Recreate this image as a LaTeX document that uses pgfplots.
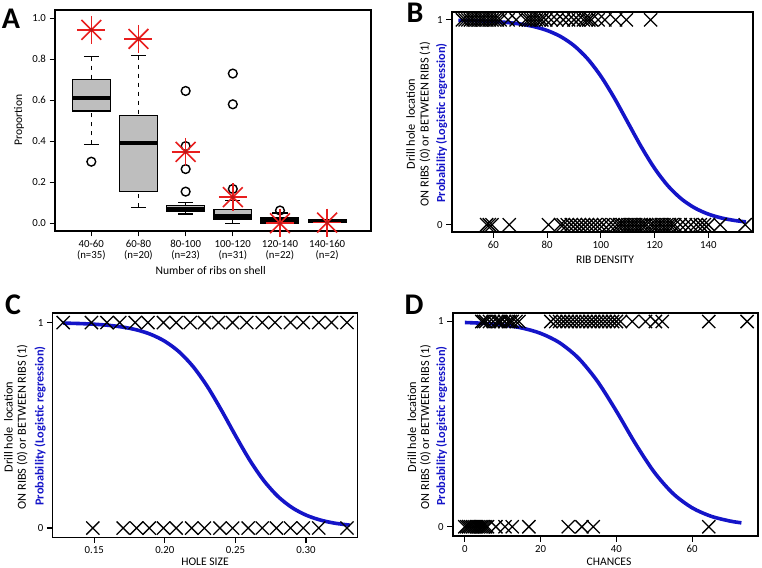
\documentclass[border=0pt]{standalone}
\usepackage{fontspec}
\setmainfont{Carlito}
\usepackage{pgfplots}
\pgfplotsset{compat=1.18}
\usepgfplotslibrary{statistics}
\definecolor{rblue}{RGB}{20,20,200}
\definecolor{rred}{RGB}{232,30,30}
\definecolor{boxgray}{RGB}{190,190,190}
\pgfplotsset{
  rframe/.style={scale only axis, anchor=south west,
    axis line style={line width=1.6pt}, tick pos=left, tick align=outside,
    major tick length=5.5pt, tick style={black, line width=1.2pt},
    /pgf/number format/assume math mode=true,
    tick label style={font=\fontsize{10.8}{11}\selectfont}},
  boxplot/draw/lower whisker/.code={%
    \draw[/pgfplots/boxplot/every whisker/.try, dash pattern=on 4.5pt off 4.5pt]
      (boxplot box cs:\pgfplotsboxplotvalue{lower whisker},0.5) --
      (boxplot box cs:\pgfplotsboxplotvalue{lower quartile},0.5);
    \draw[/pgfplots/boxplot/every whisker/.try]
      (boxplot whisker cs:\pgfplotsboxplotvalue{lower whisker},0) --
      (boxplot whisker cs:\pgfplotsboxplotvalue{lower whisker},1);
  },
  boxplot/draw/upper whisker/.code={%
    \draw[/pgfplots/boxplot/every whisker/.try, dash pattern=on 4.5pt off 4.5pt]
      (boxplot box cs:\pgfplotsboxplotvalue{upper whisker},0.5) --
      (boxplot box cs:\pgfplotsboxplotvalue{upper quartile},0.5);
    \draw[/pgfplots/boxplot/every whisker/.try]
      (boxplot whisker cs:\pgfplotsboxplotvalue{upper whisker},0) --
      (boxplot whisker cs:\pgfplotsboxplotvalue{upper whisker},1);
  },
  rbox/.style={black, line width=1.3pt, mark=o, mark size=4.4pt,
    mark options={line width=1.4pt, draw=black, fill=none, solid},
    boxplot/every box/.style={fill=boxgray, draw=black, line width=1.3pt},
    boxplot/every median/.style={line width=4.4pt, black},
    boxplot/box extend=0.8, boxplot/whisker extend=0.32},
  xmk/.style={only marks, mark=x, mark size=9.3pt, black, line width=1.3pt},
  curve/.style={rblue, line width=3.6pt, smooth, no marks},
}
\begin{document}
\begin{tikzpicture}[x=1pt,y=1pt]
\useasboundingbox (0,0) rectangle (762,567);

% ---------------- Panel A ----------------
\begin{axis}[rframe, at={(55pt,336pt)}, width=316pt, height=221pt,
  xmin=0.23, xmax=6.93, ymin=-0.038, ymax=1.04,
  xtick={1,2,3,4,5,6},
  xticklabels={{40-60\\(n=35)},{60-80\\(n=20)},{80-100\\(n=23)},{100-120\\(n=31)},{120-140\\(n=22)},{140-160\\(n=2)}},
  xticklabel style={align=center},
  ytick={0,0.2,0.4,0.6,0.8,1},
  yticklabel style={/pgf/number format/.cd, fixed, fixed zerofill, precision=1},
  boxplot/draw direction=y]
\addplot[rbox, boxplot prepared={draw position=1, lower whisker=0.385, lower quartile=0.547, median=0.61, upper quartile=0.70, upper whisker=0.812}] coordinates {(0,0.30)};
\addplot[rbox, boxplot prepared={draw position=2, lower whisker=0.078, lower quartile=0.154, median=0.392, upper quartile=0.526, upper whisker=0.818}] coordinates {};
\addplot[rbox, boxplot prepared={draw position=3, lower whisker=0.045, lower quartile=0.057, median=0.068, upper quartile=0.086, upper whisker=0.102}] coordinates {(0,0.645) (0,0.376) (0,0.264) (0,0.154)};
\addplot[rbox, boxplot prepared={draw position=4, lower whisker=0.0, lower quartile=0.017, median=0.032, upper quartile=0.068, upper whisker=0.11}] coordinates {(0,0.73) (0,0.58) (0,0.167)};
\addplot[rbox, boxplot prepared={draw position=5, lower whisker=0.0, lower quartile=0.0, median=0.014, upper quartile=0.026, upper whisker=0.05}] coordinates {(0,0.062)};
\addplot[rbox, boxplot prepared={draw position=6, lower whisker=0.004, lower quartile=0.004, median=0.01, upper quartile=0.017, upper whisker=0.017}] coordinates {};
\addplot[only marks, mark=+, mark size=14pt, rred, line width=1.6pt] coordinates {(1,0.943) (2,0.899) (3,0.348) (4,0.127) (5,0.0) (6,0.003)};
\addplot[only marks, mark=x, mark size=14pt, rred, line width=1.6pt] coordinates {(1,0.943) (2,0.899) (3,0.348) (4,0.127) (5,0.0) (6,0.003)};
\addplot[only marks, mark=*, mark size=1.8pt, rred!80!black] coordinates {(1,0.943) (2,0.899) (3,0.348) (4,0.127) (5,0.0) (6,0.003)};
\end{axis}

% ---------------- Panel B ----------------
\begin{axis}[rframe, at={(451.7pt,334.7pt)}, width=301pt, height=220pt,
  xmin=44.5, xmax=156.5, ymin=-0.037, ymax=1.037,
  xtick={60,80,100,120,140}, ytick={0,1}]
\addplot[xmk] coordinates {
(48.5,1) (49.5,1) (50.5,1) (51.5,1) (52.5,1) (53.5,1) (54.5,1) (55.5,1) (56.5,1) (57.5,1) (58.5,1) (59.5,1) (60.5,1) (61.5,1) (62.5,1)
(65.5,1) (68.5,1) (72,1) (73,1) (74,1) (75,1) (76,1) (77,1) (78,1) (79.5,1) (81.5,1) (83.6,1) (86,1) (88,1) (90,1) (91.6,1)
(93.5,1) (94.5,1) (95.5,1) (96.5,1) (99,1) (101.5,1) (105.5,1) (109.5,1) (118.5,1)};
\addplot[xmk] coordinates {
(57.5,0) (58.5,0) (59.5,0) (65.9,0) (80.5,0) (85,0) (86,0) (87.5,0) (89,0) (90.5,0) (92,0) (93.5,0) (95,0) (96.5,0) (98,0) (99.5,0)
(101,0) (103,0) (104.5,0) (106,0) (107,0) (108,0) (109,0) (110,0) (111,0) (112,0) (113,0) (114,0) (115,0) (116,0) (117,0)
(118.5,0) (119.5,0) (120.5,0) (121.5,0) (122.5,0) (123.5,0) (124.5,0) (125.5,0) (126.5,0) (127.5,0) (129.5,0) (131.5,0)
(133.5,0) (135.5,0) (137,0) (138.5,0) (140,0) (144.4,0) (153.7,0)};
\addplot[curve] coordinates {
(47,0.9978) (50,0.9970) (55,0.9952) (60,0.9922) (65,0.9874) (70,0.9798) (75,0.9675) (80,0.9483) (85,0.9187) (90,0.8744)
(95,0.8108) (100,0.7251) (105,0.6190) (110,0.5) (115,0.3811) (120,0.2749) (125,0.1892) (130,0.1256) (135,0.0813)
(140,0.0517) (145,0.0325) (150,0.0202) (154,0.0138)};
\end{axis}

% ---------------- Panel C ----------------
\begin{axis}[rframe, at={(52.3pt,29.7pt)}, width=305pt, height=224pt,
  xmin=0.1203, xmax=0.3363, ymin=-0.045, ymax=1.045,
  xtick={0.15,0.2,0.25,0.3}, ytick={0,1},
  xticklabel style={/pgf/number format/.cd, fixed, fixed zerofill, precision=2}]
\addplot[xmk] coordinates {
(0.128,1) (0.148,1) (0.159,1) (0.168,1) (0.179,1) (0.188,1) (0.199,1) (0.208,1) (0.218,1) (0.228,1) (0.238,1)
(0.248,1) (0.258,1) (0.269,1) (0.278,1) (0.289,1) (0.298,1) (0.309,1) (0.318,1) (0.329,1)};
\addplot[xmk] coordinates {
(0.149,0) (0.1705,0) (0.180,0) (0.189,0) (0.199,0) (0.208,0) (0.219,0) (0.228,0) (0.239,0) (0.248,0) (0.259,0)
(0.269,0) (0.279,0) (0.289,0) (0.298,0) (0.309,0) (0.329,0)};
\addplot[curve] coordinates {
(0.128,0.9973) (0.14,0.9950) (0.15,0.9918) (0.16,0.9866) (0.17,0.9781) (0.18,0.9644) (0.19,0.9427) (0.20,0.9088)
(0.21,0.8581) (0.22,0.7858) (0.23,0.6900) (0.24,0.5744) (0.25,0.4502) (0.26,0.3318) (0.27,0.2315) (0.28,0.1545)
(0.29,0.0998) (0.30,0.0630) (0.31,0.0392) (0.32,0.0241) (0.331,0.0141)};
\end{axis}

% ---------------- Panel D ----------------
\begin{axis}[rframe, at={(452.7pt,31pt)}, width=305pt, height=222.7pt,
  xmin=-3.2, xmax=77.3, ymin=-0.045, ymax=1.04,
  xtick={0,20,40,60}, ytick={0,1}]
\addplot[xmk] coordinates {
(4.5,1) (5,1) (5.5,1) (6.5,1) (7.5,1) (8.5,1) (9,1) (9.5,1) (10.5,1) (11.5,1) (12,1) (12.5,1) (13.5,1) (14.3,1)
(22.7,1) (24,1) (25,1) (26,1) (27,1) (28,1) (29,1) (30,1) (31,1) (32,1) (33,1) (34,1) (35,1) (36,1) (37,1) (38,1)
(39,1) (40,1) (41.1,1) (44.2,1) (47.7,1) (50.3,1) (52.1,1) (64.4,1) (74.5,1)};
\addplot[xmk] coordinates {
(0,0) (0.5,0) (1,0) (1.5,0) (2,0) (2.5,0) (3,0) (3.5,0) (4,0) (4.5,0) (5,0) (5.5,0) (6,0) (8.2,0) (10.6,0) (12.5,0)
(16.9,0) (27.3,0) (30.9,0) (33.9,0) (64.4,0)};
\addplot[curve] coordinates {
(0,0.9952) (5,0.9910) (10,0.9831) (15,0.9686) (20,0.9423) (25,0.8965) (30,0.8212) (35,0.7087) (40,0.5632)
(45,0.4058) (50,0.2658) (55,0.1610) (60,0.0923) (65,0.0511) (70,0.0278) (73,0.0191)};
\end{axis}

% ---------------- labels ----------------
\def\lab{\fontsize{11.6}{12}\selectfont}
\def\ylab{\fontsize{12.3}{13}\selectfont}
\node[font=\lab] at (210.7,296.3) {Number of ribs on shell};
\node[font=\lab, rotate=90] at (19,447) {Proportion};

\node[font=\lab] at (605,307) {RIB DENSITY};
\node[font=\ylab, rotate=90] at (410.7,443) {Drill hole\ \ location};
\node[font=\ylab, rotate=90] at (425,443) {ON RIBS (0) or BETWEEN RIBS (1)};
\node[font=\ylab\bfseries, rotate=90, text=rblue] at (441.7,444) {Probability (Logistic regression)};

\node[font=\lab] at (205,5.5) {HOLE SIZE};
\node[font=\ylab, rotate=90] at (8.3,140) {Drill hole\ \ location};
\node[font=\ylab, rotate=90] at (22.3,140) {ON RIBS (0) or BETWEEN RIBS (1)};
\node[font=\ylab\bfseries, rotate=90, text=rblue] at (40,141) {Probability (Logistic regression)};

\node[font=\lab] at (609,5.5) {CHANCES};
\node[font=\ylab, rotate=90] at (412,140) {Drill hole\ \ location};
\node[font=\ylab, rotate=90] at (425.5,140) {ON RIBS (0) or BETWEEN RIBS (1)};
\node[font=\ylab\bfseries, rotate=90, text=rblue] at (441.7,141) {Probability (Logistic regression)};

\node[font=\fontsize{30}{30}\selectfont\bfseries] at (11,548) {A};
\node[font=\fontsize{30}{30}\selectfont\bfseries] at (415,554) {B};
\node[font=\fontsize{30}{30}\selectfont\bfseries] at (13,262) {C};
\node[font=\fontsize{30}{30}\selectfont\bfseries] at (414,262) {D};
\end{tikzpicture}
\end{document}
